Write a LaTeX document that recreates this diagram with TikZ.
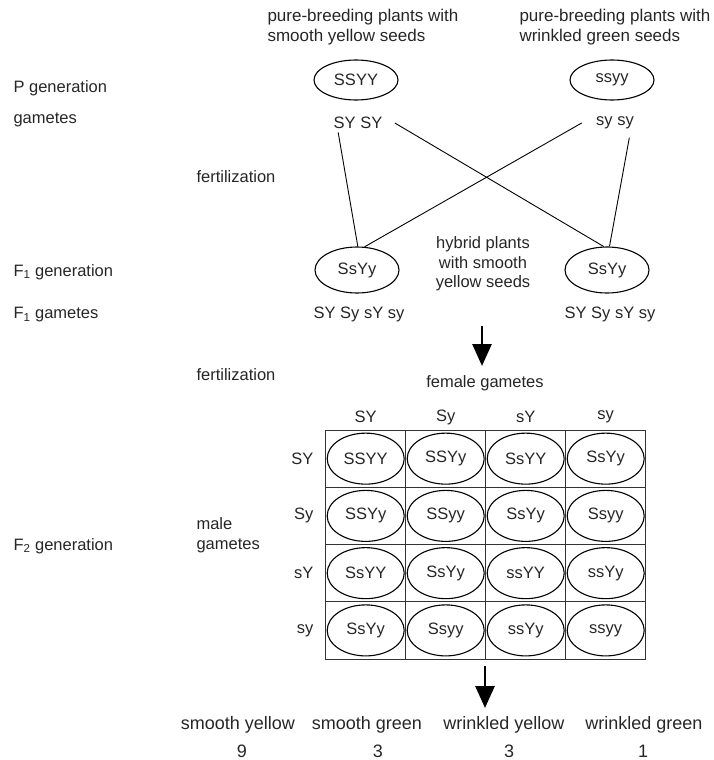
\documentclass[tikz,border=0pt]{standalone}
\usepackage{fontspec}
\setmainfont{Liberation Sans}
\usetikzlibrary{shapes.geometric,arrows.meta}

\begin{document}
\begin{tikzpicture}[x=1pt,y=-1pt,
        every node/.style={font=\fontsize{16.5}{19.5}\selectfont, text=black!85},
        bigtext/.style={font=\fontsize{17}{20}\selectfont},
        phenotext/.style={font=\fontsize{18}{21}\selectfont},
        plant/.style={draw, ellipse, line width=1.1pt, minimum width=84pt, minimum height=40pt, inner sep=0pt},
        hybrid/.style={plant, minimum height=46pt},
        cellbox/.style={draw, black!80, line width=0.8pt, minimum width=80pt, minimum height=57.25pt, inner sep=0pt},
        geno/.style={draw, ellipse, line width=1.1pt, minimum width=77pt, minimum height=51pt, inner sep=0pt},
        sidelabel/.style={anchor=west},
        bigarrow/.style={line width=2.8pt, -{Triangle[width=19pt,length=22pt]}}]
        \useasboundingbox (0,0) rectangle (713,760);

        % Parents
        \node[bigtext, anchor=west, align=left] (descL) at (264,27) {pure-breeding plants with\\smooth yellow seeds};
        \node[bigtext, anchor=west, align=left] (descR) at (516,27) {pure-breeding plants with\\wrinkled green seeds};
        \node[plant] (pL) at (356,80) {SSYY};
        \node[plant] (pR) at (612,80) {ssyy};
        \node (gamL) at (358,123) {SY SY};
        \node (gamR) at (615,123) {sy sy};

        % F1
        \node[hybrid] (f1L) at (357,270) {SsYy};
        \node[hybrid] (f1R) at (607,270) {SsYy};
        \node[align=center] (hybtext) at (483,264) {hybrid plants\\with smooth\\yellow seeds};
        \node (f1gamL) at (359,314) {SY Sy sY sy};
        \node (f1gamR) at (610,314) {SY Sy sY sy};

        % Side labels
        \node[sidelabel] (lblP) at (10,88) {P generation};
        \node[sidelabel] (lblgam) at (10,120) {gametes};
        \node[sidelabel] (lblfert1) at (193,177) {fertilization};
        \node[sidelabel] (lblF1) at (10,272) {F\textsubscript{1} generation};
        \node[sidelabel] (lblF1gam) at (10,315) {F\textsubscript{1} gametes};
        \node[sidelabel] (lblfert2) at (193,375) {fertilization};
        \node[sidelabel] (lblF2) at (10,546) {F\textsubscript{2} generation};
        \node[sidelabel, align=left] (lblmale) at (193,535) {male\\gametes};

        % Punnett square
        \node (female) at (485,383) {female gametes};
        \foreach \col [count=\c] in {SY,Sy,sY,sy}
            \node (col\c) at ({285.7+80*\c},417) {\col};
        \foreach \row/\cells [count=\r] in {SY/{SSYY,SSYy,SsYY,SsYy},
                                           Sy/{SSYy,SSyy,SsYy,Ssyy},
                                           sY/{SsYY,SsYy,ssYY,ssYy},
                                           sy/{SsYy,Ssyy,ssYy,ssyy}} {
            \node[anchor=east] (row\r) at (317,{401.4+57.25*\r}) {\row};
            \foreach \g [count=\c] in \cells {
                \node[cellbox] (box\r\c) at ({285.7+80*\c},{401.4+57.25*\r}) {};
                \node[geno] (geno\r\c) at (box\r\c) {\g};
            }
        }

        % Phenotypes
        \node[phenotext] (ph1) at (238,725) {smooth yellow};
        \node[phenotext] (ph2) at (367,725) {smooth green};
        \node[phenotext] (ph3) at (504,725) {wrinkled yellow};
        \node[phenotext] (ph4) at (644,725) {wrinkled green};
        \node[phenotext] (n1) at (242,751) {9};
        \node[phenotext] (n2) at (378,751) {3};
        \node[phenotext] (n3) at (509,751) {3};
        \node[phenotext] (n4) at (643,751) {1};

        % Arrows
        \coordinate (arr1s) at (482,326);
        \coordinate (arr1e) at (482,366);
        \coordinate (arr2s) at (485,666);
        \coordinate (arr2e) at (485,708);
        \draw[line width=0.9pt] ([xshift=8pt]gamL.south west) -- (f1L.88);
        \draw[line width=0.9pt] ([xshift=9pt]gamL.east) -- (f1R.98);
        \draw[line width=0.9pt] ([xshift=-11pt]gamR.west) -- (f1L.72);
        \draw[line width=0.9pt] ([xshift=-8pt,yshift=-5pt]gamR.south east) -- (f1R.84);
        \draw[bigarrow] (arr1s) -- (arr1e);
        \draw[bigarrow] (arr2s) -- (arr2e);

    \end{tikzpicture}
\end{document}
